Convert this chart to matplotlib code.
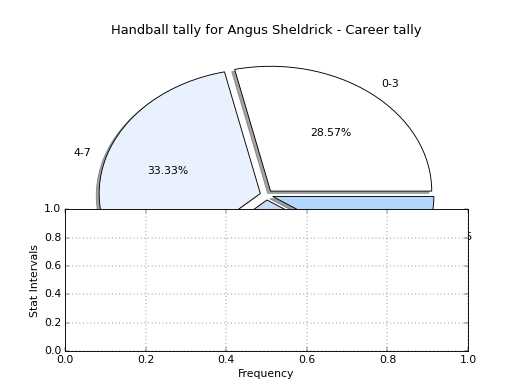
import matplotlib
matplotlib.use('Agg')
import matplotlib.pyplot as plt

# data
intervals = ['0-3', '4-7', '8-11', '12-15']
counts = [6, 7, 6, 2]
slice_colors = ['#ffffff', '#eaf1fe', '#c9dbf5', '#b4d5fe']
explode = [0.04, 0.04, 0.04, 0.04]

plt.style.use('classic')

fig = plt.figure(figsize=(8, 6), dpi=65)

# pie in the full axes
ax1 = fig.add_subplot(111)
ax1.pie(counts, labels=intervals, colors=slice_colors, explode=explode,
        autopct='%1.2f%%', shadow=True)
ax1.set_aspect('auto')
ax1.set_title('Handball tally for Angus Sheldrick - Career tally')

# second (empty) axes drawn on top
ax2 = fig.add_subplot(212)
ax2.grid(True)
ax2.set_xlabel('Frequency')
ax2.set_ylabel('Stat Intervals')

fig.savefig('out.png', dpi=65, facecolor='white')
